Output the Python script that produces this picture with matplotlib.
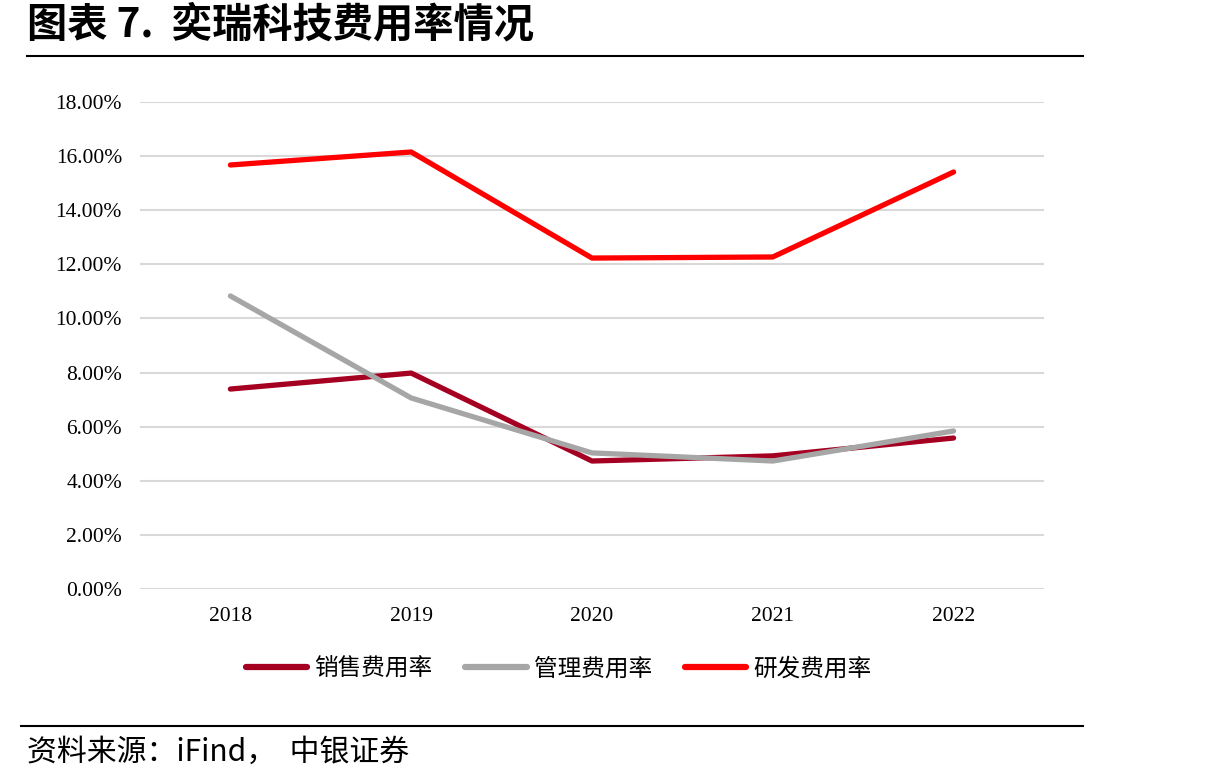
import matplotlib.pyplot as plt
from matplotlib.lines import Line2D

plt.rcParams['font.family'] = ['Liberation Serif', 'Noto Sans CJK SC', 'DejaVu Sans']

# 数据
anos = ["2018", "2019", "2020", "2021", "2022"]
vendas = [7.39, 7.98, 4.73, 4.92, 5.58]      # 销售费用率
gestao = [10.83, 7.06, 5.03, 4.73, 5.84]     # 管理费用率
pesquisa = [15.67, 16.15, 12.23, 12.27, 15.41]  # 研发费用率
series_nomes = ["销售费用率", "管理费用率", "研发费用率"]
cores = ["#A50021", "#A6A6A6", "#FF0000"]

fig = plt.figure(figsize=(12.09, 7.84), dpi=100)
ax = fig.add_axes([0.1158, 0.2487, 0.7477, 0.6213])

x = range(len(anos))
for valores, cor in zip([vendas, gestao, pesquisa], cores):
    ax.plot(x, valores, color=cor, linewidth=3.8, solid_capstyle="round", zorder=3)

ax.set_xlim(-0.5, len(anos) - 0.5)
ax.set_ylim(0, 18)
ax.set_yticks(range(0, 19, 2))
ax.set_yticklabels([f"{v:.2f}%" for v in range(0, 19, 2)])
ax.set_xticks(list(x))
ax.set_xticklabels(anos)
ax.grid(axis="y", color="#D9D9D9", linewidth=1.5)
ax.set_axisbelow(True)
for s in ax.spines.values():
    s.set_visible(False)
ax.tick_params(axis="both", length=0, labelsize=15.5)
ax.tick_params(axis="y", pad=13)
ax.tick_params(axis="x", pad=13)

# Legenda
handles = [Line2D([0], [0], color=c, linewidth=4.5, solid_capstyle="round") for c in cores]
fig.legend(handles, series_nomes, loc="center", bbox_to_anchor=(0.462, 0.147), ncol=3,
           frameon=False, handlelength=2.6, handletextpad=0.3, columnspacing=1.4,
           prop={"family": "Noto Sans CJK SC", "size": 17})

# Título e linhas
fig.text(0.022, 0.968, "图表 7.  奕瑞科技费用率情况", fontsize=29, fontweight="bold",
         family=["Noto Sans CJK SC"], va="center", ha="left")
fig.add_artist(Line2D([0.022, 0.896], [0.929, 0.929], color="black", linewidth=1.5))
fig.add_artist(Line2D([0.017, 0.896], [0.074, 0.074], color="black", linewidth=1.5))
fig.text(0.022, 0.040, "资料来源：iFind，  中银证券", fontsize=21.5, style="italic",
         family=["Noto Sans CJK SC"], va="center", ha="left")

plt.savefig("out.png", dpi=100)
